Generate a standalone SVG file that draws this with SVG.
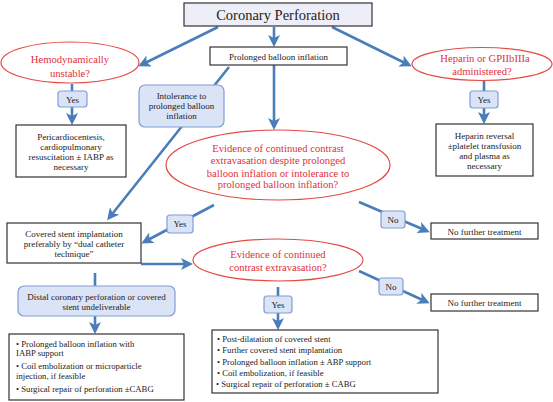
<svg xmlns="http://www.w3.org/2000/svg" width="553" height="402" viewBox="0 0 553 402" font-family="'Liberation Serif', 'Times New Roman', serif">
<style>
.t{font-family:'Liberation Serif','Times New Roman',serif;font-size:9px;text-anchor:middle;fill:#222}
.l{font-family:'Liberation Serif','Times New Roman',serif;font-size:8.7px;fill:#222}
.r{font-family:'Liberation Serif','Times New Roman',serif;font-size:10.6px;fill:#e0303a;text-anchor:middle}
.h{font-family:'Liberation Serif','Times New Roman',serif;font-size:14.5px;text-anchor:middle;fill:#222}
.box{fill:#fff;stroke:#333;stroke-width:1.2}
.lab{fill:#dbe4f6;stroke:#7f9ed6;stroke-width:1.2}
.ell{fill:#fff;stroke:#e64a45;stroke-width:1.2}
.c{stroke:#4a7ebb;stroke-width:2.6;fill:none}
.a{marker-end:url(#ah)}
</style>
<defs>
<marker id="ah" markerUnits="userSpaceOnUse" viewBox="0 0 12 12" markerWidth="12" markerHeight="12" refX="9" refY="6" orient="auto">
<path d="M0,0 L12,6 L0,12 L3,6 z" fill="#4a7ebb"/>
</marker>
</defs>
<rect width="553" height="402" fill="#fff"/>
<g id="connectors">
<line class="c a" x1="218" y1="27" x2="141" y2="65"/>
<line class="c a" x1="274" y1="27" x2="274" y2="44"/>
<line class="c a" x1="332" y1="27" x2="409" y2="65"/>
<line class="c a" x1="72" y1="84" x2="72" y2="122"/>
<line class="c a" x1="484" y1="80" x2="484" y2="121"/>
<line class="c a" x1="274" y1="65" x2="274" y2="127"/>
<line class="c a" x1="229" y1="67" x2="109" y2="218"/>
<line class="c a" x1="214" y1="205" x2="144" y2="242"/>
<line class="c a" x1="359" y1="202" x2="427" y2="231"/>
<line class="c a" x1="141" y1="264" x2="190" y2="264"/>
<line class="c" x1="95" y1="273" x2="95" y2="287"/>
<line class="c a" x1="95" y1="316" x2="95" y2="331"/>
<line class="c a" x1="359" y1="271" x2="427" y2="302"/>
<line class="c a" x1="278" y1="287" x2="278" y2="327"/>
</g>
<g id="title">
<rect x="184" y="3" width="188" height="23" fill="#eeeef8" stroke="#333" stroke-width="1.2"/>
<text class="h" x="278" y="20">Coronary Perforation</text>
</g>
<g id="prolonged">
<rect class="box" x="210" y="47" width="137" height="18"/>
<text class="t" x="278.5" y="59.5">Prolonged balloon inflation</text>
</g>
<g id="hemodynamically">
<ellipse class="ell" cx="70" cy="62.5" rx="69" ry="20.5"/>
<text class="r" x="70" y="62.5">Hemodynamically</text>
<text class="r" x="70" y="76.5">unstable?</text>
</g>
<g id="heparin-q">
<ellipse class="ell" cx="482" cy="64" rx="70" ry="16.5"/>
<text class="r" x="485" y="62">Heparin or GPIIbIIIa</text>
<text class="r" x="482" y="75">administered?</text>
</g>
<g id="yes1">
<rect class="lab" x="58" y="91" width="29" height="16" rx="3"/>
<text class="t" x="72.5" y="102.5">Yes</text>
</g>
<g id="yes2">
<rect class="lab" x="470" y="91" width="28" height="17" rx="3"/>
<text class="t" x="484" y="103">Yes</text>
</g>
<g id="pericardio">
<rect class="box" x="16" y="125" width="110" height="52"/>
<text class="t" x="71" y="140">Pericardiocentesis,</text>
<text class="t" x="71" y="150">cardiopulmonary</text>
<text class="t" x="71" y="160">resuscitation ± IABP as</text>
<text class="t" x="71" y="170">necessary</text>
</g>
<g id="heparin-reversal">
<rect class="box" x="436" y="124" width="97" height="52"/>
<text class="t" x="484.5" y="139">Heparin reversal</text>
<text class="t" x="484.5" y="149">±platelet transfusion</text>
<text class="t" x="484.5" y="159">and plasma as</text>
<text class="t" x="484.5" y="169">necessary</text>
</g>
<g id="intolerance">
<rect class="lab" x="139" y="85" width="85" height="42" rx="6"/>
<text class="t" x="181.5" y="99">Intolerance to</text>
<text class="t" x="181.5" y="109">prolonged balloon</text>
<text class="t" x="181.5" y="119">inflation</text>
</g>
<g id="evidence1">
<ellipse class="ell" cx="278" cy="165" rx="112" ry="35"/>
<text class="r" x="278" y="152">Evidence of continued contrast</text>
<text class="r" x="278" y="164">extravasation despite prolonged</text>
<text class="r" x="278" y="177">balloon inflation or intolerance to</text>
<text class="r" x="278" y="188">prolonged balloon inflation?</text>
</g>
<g id="yes3">
<rect class="lab" x="167" y="215" width="26" height="18" rx="3"/>
<text class="t" x="180" y="227">Yes</text>
</g>
<g id="no1">
<rect class="lab" x="381" y="211" width="24" height="17" rx="3"/>
<text class="t" x="393" y="223">No</text>
</g>
<g id="nft1">
<rect class="box" x="431" y="223" width="107" height="16"/>
<text class="t" x="484.5" y="234.5">No further treatment</text>
</g>
<g id="covered-stent">
<rect class="box" x="7" y="223" width="134" height="40"/>
<text class="t" x="74" y="237">Covered stent implantation</text>
<text class="t" x="74" y="247">preferably by “dual catheter</text>
<text class="t" x="74" y="257">technique”</text>
</g>
<g id="evidence2">
<ellipse class="ell" cx="278" cy="260" rx="85" ry="21"/>
<text class="r" x="278" y="258">Evidence of continued</text>
<text class="r" x="278" y="271">contrast extravasation?</text>
</g>
<g id="no2">
<rect class="lab" x="379" y="278" width="24" height="17" rx="3"/>
<text class="t" x="391" y="290">No</text>
</g>
<g id="nft2">
<rect class="box" x="431" y="294" width="107" height="17"/>
<text class="t" x="484.5" y="306">No further treatment</text>
</g>
<g id="distal">
<rect class="lab" x="18" y="286" width="157" height="30" rx="6"/>
<text class="t" x="96.5" y="300">Distal coronary perforation or covered</text>
<text class="t" x="96.5" y="310">stent undeliverable</text>
</g>
<g id="yes4">
<rect class="lab" x="264" y="296" width="28" height="17" rx="3"/>
<text class="t" x="278" y="308">Yes</text>
</g>
<g id="left-treatment">
<rect class="box" x="9" y="334" width="175" height="66"/>
<text class="l" x="16" y="347">• Prolonged balloon inflation with</text>
<text class="l" x="16" y="356">IABP support</text>
<text class="l" x="16" y="369">• Coil embolization or microparticle</text>
<text class="l" x="16" y="379">injection, if feasible</text>
<text class="l" x="16" y="392">• Surgical repair of perforation ±CABG</text>
</g>
<g id="right-treatment">
<rect class="box" x="212" y="330" width="226" height="63"/>
<text class="l" x="217" y="342">• Post-dilatation of covered stent</text>
<text class="l" x="217" y="353">• Further covered stent implantation</text>
<text class="l" x="217" y="365">• Prolonged balloon inflation ± ABP support</text>
<text class="l" x="217" y="376">• Coil embolization, if feasible</text>
<text class="l" x="216" y="387">• Surgical repair of perforation ± CABG</text>
</g>
</svg>
